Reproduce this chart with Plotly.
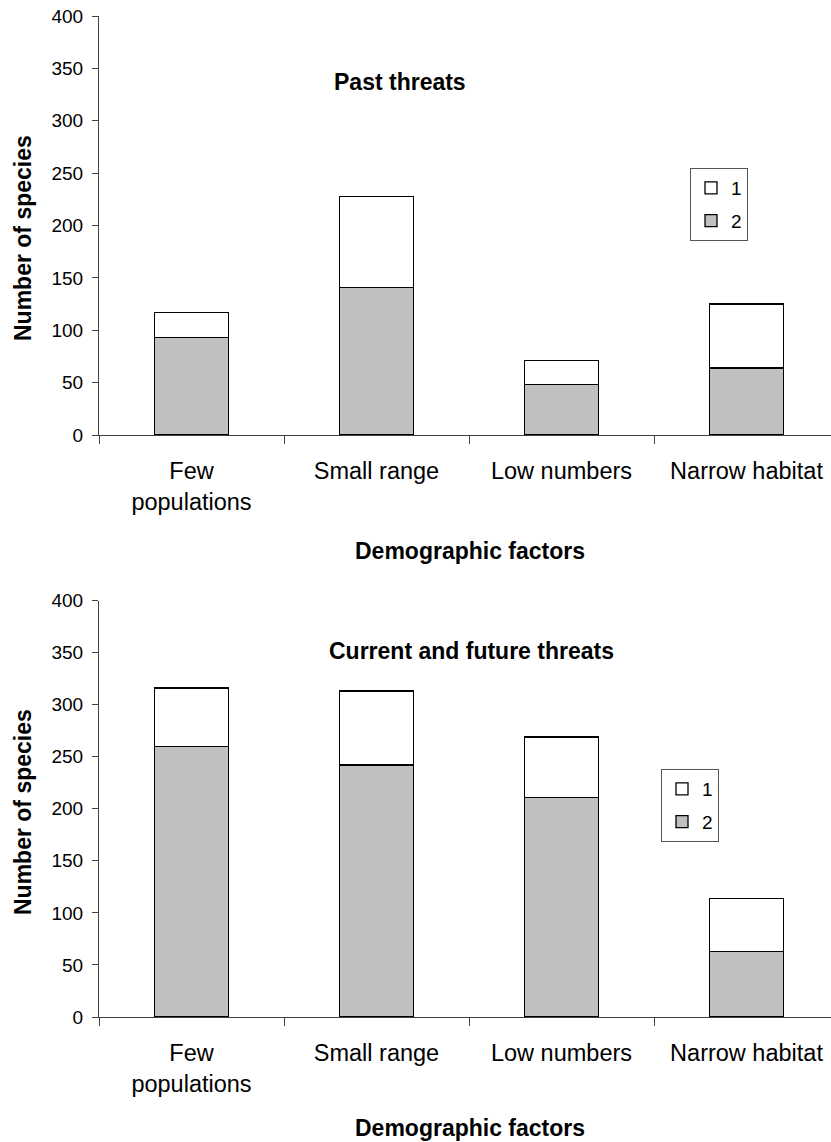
import plotly.graph_objects as go

# Demographic factors (x categories)
categories = ["Few<br>populations", "Small range", "Low numbers", "Narrow habitat"]

# Past threats: species counts per category, split by level
past_level2 = [93, 141, 48, 64]
past_level1 = [24, 87, 23, 61]

# Current and future threats
current_level2 = [260, 242, 211, 63]
current_level1 = [56, 71, 58, 51]

y_tick_values = [0, 50, 100, 150, 200, 250, 300, 350, 400]

W, H = 831, 1142
M_L, M_R, M_T, M_B = 99, 0, 16, 125


def px_x(px):
    return (px - M_L) / (W - M_L - M_R)


def px_y(py):
    return (H - M_B - py) / (H - M_T - M_B)


FONT = "Liberation Sans, Arial, Helvetica, sans-serif"
GREY = "#c0c0c0"
AXIS = "#404040"
OUTLINE = dict(color="black", width=1.3)

fig = go.Figure()

panels = [
    ("x", "y", "legend", past_level1, past_level2),
    ("x2", "y2", "legend2", current_level1, current_level2),
]
for xa, ya, lg, lvl1, lvl2 in panels:
    fig.add_trace(go.Bar(
        x=categories, y=lvl2, name="2", xaxis=xa, yaxis=ya,
        legend=lg, legendgroup=lg + "_2", legendrank=2, width=0.4,
        marker=dict(color=GREY, line=OUTLINE),
    ))
    fig.add_trace(go.Bar(
        x=categories, y=lvl1, name="1", xaxis=xa, yaxis=ya,
        legend=lg, legendgroup=lg + "_1", legendrank=1, width=0.4,
        marker=dict(color="white", line=OUTLINE),
    ))

x_range = [-0.5, -0.5 + (W - M_L) / 185.0]

xaxis_common = dict(
    type="category", range=x_range, showline=True, linecolor=AXIS, linewidth=1,
    ticks="outside", tickson="boundaries", ticklen=8, tickcolor=AXIS, tickwidth=1,
    showgrid=False, zeroline=False, fixedrange=True,
    tickfont=dict(family=FONT, size=23.5, color="black"),
    ticklabelstandoff=15,
)
yaxis_common = dict(
    range=[0, 400], tickvals=y_tick_values, showline=True, linecolor=AXIS,
    linewidth=1, ticks="outside", ticklen=6, tickcolor=AXIS, tickwidth=1,
    showgrid=False, zeroline=False, fixedrange=True,
    tickfont=dict(family=FONT, size=19, color="black"),
    ticklabelstandoff=5,
)

legend_common = dict(
    bgcolor="white", bordercolor="#555555", borderwidth=1,
    font=dict(family=FONT, size=19, color="black"),
    traceorder="grouped", tracegroupgap=5,
    xanchor="left", yanchor="top", itemclick=False, itemdoubleclick=False,
)

fig.update_layout(
    width=W, height=H,
    margin=dict(l=M_L, r=M_R, t=M_T, b=M_B, pad=0),
    paper_bgcolor="white", plot_bgcolor="white",
    barmode="stack", bargap=0.6,
    font=dict(family=FONT, color="black"),
    xaxis=dict(domain=[0, 1], anchor="y", **xaxis_common),
    yaxis=dict(domain=[px_y(435), 1], anchor="x", **yaxis_common),
    xaxis2=dict(domain=[0, 1], anchor="y2", **xaxis_common),
    yaxis2=dict(domain=[0, px_y(600.5)], anchor="x2", **yaxis_common),
    legend=dict(x=px_x(690), y=px_y(168), **legend_common),
    legend2=dict(x=px_x(661), y=px_y(769), **legend_common),
)

title_font = dict(family=FONT, size=23, color="black")
annotations = [
    ("<b>Past threats</b>", 400, 82, 0),
    ("<b>Current and future threats</b>", 472, 651, 0),
    ("<b>Demographic factors</b>", 470, 551, 0),
    ("<b>Demographic factors</b>", 470, 1128, 0),
    ("<b>Number of species</b>", 23, 238, -90),
    ("<b>Number of species</b>", 23, 812, -90),
]
for text, px, py, angle in annotations:
    fig.add_annotation(
        text=text, xref="paper", yref="paper", x=px_x(px), y=px_y(py),
        xanchor="center", yanchor="middle", showarrow=False,
        textangle=angle, font=title_font,
    )

fig.write_html("out.html")
